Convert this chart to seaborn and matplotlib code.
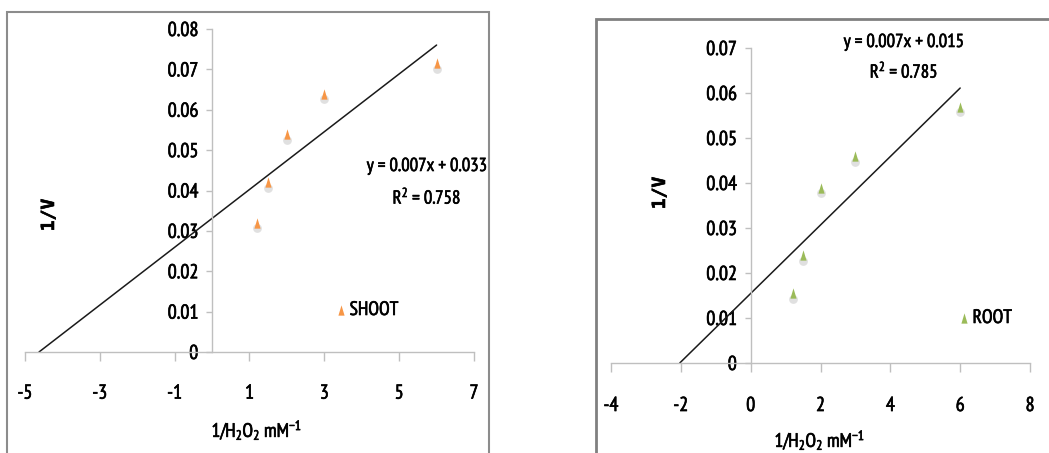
import numpy as np
import pandas as pd
import matplotlib
matplotlib.use('Agg')
import matplotlib.pyplot as plt
import matplotlib.patheffects as pe
from matplotlib.path import Path
from matplotlib.patches import Rectangle
from matplotlib.transforms import ScaledTranslation
import seaborn as sns

# values
conc = [1.2, 1.5, 2, 3, 6]
shoot = [0.032, 0.042, 0.054, 0.064, 0.0715]
root = [0.0155, 0.024, 0.039, 0.046, 0.057]

shoot_eq = ['y = 0.007x + 0.033', 'R$^2$ = 0.758']
root_eq = ['y = 0.007x + 0.015', 'R$^2$ = 0.785']

shoot_xticks = [-5, -3, -1, 1, 3, 5, 7]
shoot_yticks = [0, 0.01, 0.02, 0.03, 0.04, 0.05, 0.06, 0.07, 0.08]
root_xticks = [-4, -2, 0, 2, 4, 6, 8]
root_yticks = [0, 0.01, 0.02, 0.03, 0.04, 0.05, 0.06, 0.07]

sns.set_style('white')
plt.rcParams['font.family'] = ['PT Sans Narrow', 'DejaVu Sans']
plt.rcParams['mathtext.default'] = 'regular'
plt.rcParams['text.color'] = 'black'
plt.rcParams['xtick.color'] = 'black'
plt.rcParams['ytick.color'] = 'black'

W, H = 1049, 453
fig = plt.figure(figsize=(W / 100, H / 100), dpi=100)
heavy = [pe.withStroke(linewidth=0.45, foreground='black')]

def px(x, y):
    # pixel (top-left origin) -> figure fraction
    return x / W, 1 - y / H

# chart frames
fig.add_artist(Rectangle(px(7, 470), (489 - 7) / W, (470 - 12) / H,
                         transform=fig.transFigure, fill=False,
                         edgecolor='#8c8c8c', lw=1.5))
fig.add_artist(Rectangle(px(596, 470), (1060 - 596) / W, (470 - 19) / H,
                         transform=fig.transFigure, fill=False,
                         edgecolor='#808080', lw=2))

tri = Path([(-0.3, -0.5), (0.3, -0.5), (0, 0.5), (-0.3, -0.5)],
           [Path.MOVETO, Path.LINETO, Path.LINETO, Path.CLOSEPOLY])


def panel(rect, x, y, color, name, xlim, ylim, xticks, yticks, xpad):
    ax = fig.add_axes(rect)
    df = pd.DataFrame({'x': x, 'y': y})
    # soft shadow under each marker
    shadow = ax.transData + ScaledTranslation(0, -4 / 72, fig.dpi_scale_trans)
    sns.scatterplot(data=df, x='x', y='y', ax=ax, marker='o', s=40,
                    color='#9a9a9a', alpha=0.3, linewidth=0,
                    transform=shadow, zorder=2)
    sns.scatterplot(data=df, x='x', y='y', ax=ax, marker=tri, s=55,
                    color=color, linewidth=0, label=name, zorder=3)

    # linear trendline, extended back to the x intercept
    slope, icpt = np.polyfit(x, y, 1)
    x0 = -icpt / slope
    ax.plot([x0, max(x)], [0, slope * max(x) + icpt], color='#1a1a1a',
            lw=1.1, zorder=2)

    ax.set_xlim(xlim)
    ax.set_ylim(ylim)
    ax.set_xticks(xticks)
    ax.set_xticklabels([str(t) for t in xticks])
    ax.set_yticks(yticks)
    ax.set_yticklabels(['0' if t == 0 else f'{t:.2f}' for t in yticks])
    ax.set_xlabel('')
    ax.set_ylabel('')
    ax.patch.set_alpha(0)

    for s in ['top', 'right']:
        ax.spines[s].set_visible(False)
    ax.spines['left'].set_position(('data', 0))
    for s in ['left', 'bottom']:
        ax.spines[s].set_color('#bfbfbf')
        ax.spines[s].set_linewidth(1)
    ax.tick_params(axis='y', direction='out', length=4, width=1,
                   color='#bfbfbf', pad=6, labelsize=14.5, left=True)
    ax.tick_params(axis='x', direction='out', length=6.5, width=1,
                   color='#bfbfbf', pad=xpad, labelsize=14.5, bottom=True)
    for t in ax.get_xticklabels() + ax.get_yticklabels():
        t.set_path_effects(heavy)
    return ax


ax1 = panel([25 / W, 1 - 352 / H, 449 / W, 323 / H], conc, shoot,
            '#f79646', 'SHOOT', (-5, 7), (0, 0.08), shoot_xticks, shoot_yticks, 17)
ax2 = panel([611 / W, 1 - 363 / H, 419 / W, 315 / H], conc, root,
            '#9bbb59', 'ROOT', (-4, 8), (0, 0.07), root_xticks, root_yticks, 18)

for ax, anchor in [(ax1, px(335, 310)), (ax2, px(958, 318))]:
    leg = ax.legend(loc='center left', bbox_to_anchor=anchor,
                    bbox_transform=fig.transFigure, frameon=False, fontsize=14,
                    handlelength=0.6, handletextpad=0.15, borderpad=0,
                    borderaxespad=0)
    for t in leg.get_texts():
        t.set_path_effects(heavy)

# trendline equations
for (x, y), s in [((427, 166), shoot_eq[0]), ((427, 197), shoot_eq[1]),
                  ((904, 42), root_eq[0]), ((904, 71), root_eq[1])]:
    fig.text(*px(x, y), s, ha='center', va='center', fontsize=13.5,
             path_effects=heavy)

# axis titles
xlab = '1/H$_2$O$_2$ mM$^{-1}$'
fig.text(*px(257, 430), xlab, ha='center', va='center', fontsize=14,
         path_effects=heavy)
fig.text(*px(820, 440), xlab, ha='center', va='center', fontsize=14,
         path_effects=heavy)
for x, y in [(49, 215), (660, 193)]:
    fig.text(*px(x, y), '1/V', ha='center', va='center', rotation=90,
             fontsize=13, fontweight='bold', family='DejaVu Sans Mono',
             path_effects=heavy)

fig.savefig('out.png', dpi=100)
